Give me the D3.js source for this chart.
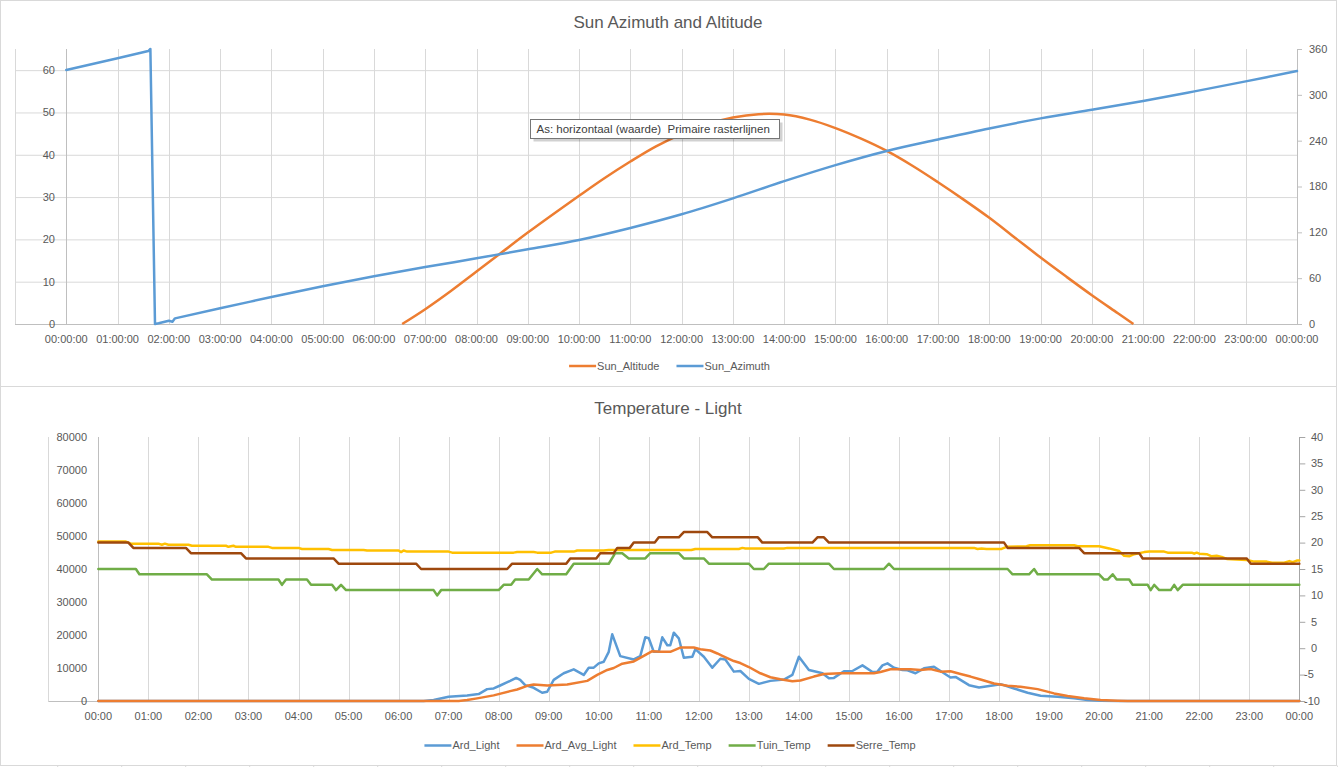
<!DOCTYPE html>
<html>
<head>
<meta charset="utf-8">
<script src="https://cdn.jsdelivr.net/npm/d3@7"></script>
<style>
  html, body { margin: 0; padding: 0; background: #fff; }
  svg { display: block; font-family: "Liberation Sans", Arial, sans-serif; }
</style>
</head>
<body>
<svg id="chart" width="1338" height="767"></svg>
<script>
// ---------------- DATA ----------------
// Chart 1: Sun Azimuth and Altitude (x = hour of day)
const topTitle = "Sun Azimuth and Altitude";
const topTickHours = [0,1,2,3,4,5,6,7,8,9,10,11,12,13,14,15,16,17,18,19,20,21,22,23,24];
const topTickLabels = ["00:00:00","01:00:00","02:00:00","03:00:00","04:00:00","05:00:00","06:00:00","07:00:00","08:00:00","09:00:00","10:00:00","11:00:00","12:00:00","13:00:00","14:00:00","15:00:00","16:00:00","17:00:00","18:00:00","19:00:00","20:00:00","21:00:00","22:00:00","23:00:00","00:00:00"];
const topLeftTicks = [0,10,20,30,40,50,60];
const topRightTicks = [0,60,120,180,240,300,360];

const sunAltitude = [
  [6.55,0],[7,3.5],[7.5,7.8],[8,12.4],[8.5,17],[9,21.6],[9.5,26.0],[10,30.3],[10.5,34.5],
  [11,38.4],[11.5,42.0],[12,44.9],[12.5,47.2],[13,48.8],[13.5,49.6],[14,49.5],[14.5,48.3],
  [15,46.3],[15.5,43.8],[16,40.9],[16.5,37.4],[17,33.5],[17.5,29.4],[18,25.1],[18.5,20.4],
  [19,15.7],[19.5,11.2],[20,6.8],[20.5,2.6],[20.81,0]
];
const sunAzimuth = [
  [0,332.5],[1,348],[1.6,357.3],[1.64,360],[1.73,0],[1.8,1],[2.0,4.3],[2.07,3.0],[2.12,7.4],
  [3,20.5],[4,35.3],[5,49.3],[6,62.4],[7,74.5],[8,86],[9,97.8],[10,110],[11,125.7],[12,143.6],
  [13,164.5],[14,187],[15,208],[16,226.5],[17,241.5],[18,256],[19,269.2],[20,280.5],
  [21,291.9],[22,304.5],[23,317.6],[24,331.2]
];

// Chart 2: Temperature - Light
const botTitle = "Temperature - Light";
const botTickHours = [0,1,2,3,4,5,6,7,8,9,10,11,12,13,14,15,16,17,18,19,20,21,22,23,24];
const botTickLabels = ["00:00","01:00","02:00","03:00","04:00","05:00","06:00","07:00","08:00","09:00","10:00","11:00","12:00","13:00","14:00","15:00","16:00","17:00","18:00","19:00","20:00","21:00","22:00","23:00","00:00"];
const botLeftTicks = [0,10000,20000,30000,40000,50000,60000,70000,80000];
const botRightTicks = [-10,-5,0,5,10,15,20,25,30,35,40];

const ardLight = [
  [0,0],[6.5,0],[6.7,300],[7.0,1300],[7.37,1700],[7.6,2100],[7.77,3600],[7.9,3800],[8.03,4700],
  [8.23,6100],[8.35,7000],[8.43,6400],[8.53,4800],[8.7,4000],[8.87,2500],[8.97,2800],[9.1,6400],
  [9.3,8400],[9.5,9600],[9.7,7900],[9.8,10100],[9.9,10100],[10.0,11400],[10.1,11900],[10.2,14900],
  [10.27,20200],[10.43,13600],[10.7,12600],[10.83,13600],[10.93,19300],[11.0,19000],[11.1,14900],
  [11.2,14900],[11.27,19300],[11.37,16900],[11.43,16900],[11.5,20700],[11.6,19000],[11.7,13100],
  [11.87,13400],[11.93,15700],[12.1,13400],[12.27,10100],[12.43,12800],[12.53,12600],[12.7,8900],
  [12.83,9100],[13.0,6700],[13.2,5200],[13.43,6100],[13.7,6500],[13.87,7900],[14.0,13400],
  [14.2,9400],[14.37,8800],[14.47,8400],[14.6,6900],[14.7,7000],[14.9,9000],[15.07,9100],
  [15.27,10800],[15.47,8800],[15.57,8900],[15.67,10800],[15.77,11400],[15.9,10100],[16.07,9400],
  [16.17,9300],[16.33,8400],[16.5,9900],[16.7,10400],[16.83,9100],[17.03,7100],[17.13,7300],
  [17.4,4800],[17.6,4100],[17.77,4500],[18.03,5100],[18.3,3800],[18.57,2500],[18.83,1600],
  [19.17,1300],[19.5,800],[19.77,300],[20.03,100],[20.4,0],[24,0]
];
const ardAvgLight = [
  [0,0],[7.2,0],[7.37,300],[7.57,800],[7.9,1700],[8.23,3000],[8.37,3500],[8.57,4600],[8.7,5000],
  [8.97,4700],[9.37,5000],[9.77,6100],[9.97,7900],[10.17,9400],[10.3,10000],[10.47,11300],
  [10.7,12000],[10.9,13700],[11.07,15100],[11.23,14900],[11.43,14900],[11.63,16200],[11.9,16200],
  [12.03,15700],[12.23,15300],[12.37,14400],[12.47,13700],[12.7,12100],[12.83,11500],[13.0,10300],
  [13.23,8400],[13.43,7200],[13.63,6600],[13.87,6000],[14.03,6200],[14.3,7400],[14.5,8200],
  [14.83,8400],[15.5,8400],[15.63,8800],[15.83,9600],[16.23,9600],[16.43,9400],[16.63,9700],
  [16.83,8900],[17.03,9000],[17.23,8200],[17.43,7400],[17.63,6500],[17.9,5300],[18.17,4600],
  [18.43,4300],[18.77,3600],[19.1,2300],[19.37,1500],[19.7,800],[20.03,300],[20.37,100],
  [20.57,0],[24,0]
];
const ardTemp = [
  [0,20.2],[0.55,20.2],[0.65,19.8],[1.2,19.8],[1.27,19.6],[1.33,19.8],[1.4,19.6],[1.8,19.6],
  [1.87,19.4],[2.55,19.4],[2.6,19.2],[2.7,19.4],[2.75,19.2],[3.4,19.2],[3.47,19.0],[4.0,19.0],
  [4.07,18.8],[4.6,18.8],[4.67,18.6],[5.3,18.6],[5.37,18.5],[6.0,18.5],[6.05,18.2],[6.1,18.5],
  [6.17,18.3],[7.0,18.3],[7.07,18.1],[8.3,18.1],[8.37,18.2],[8.7,18.2],[8.77,18.1],[9.05,18.1],
  [9.12,18.3],[9.5,18.3],[9.57,18.5],[10.1,18.5],[10.2,18.6],[11.85,18.6],[11.93,18.8],[12.8,18.8],
  [12.87,19.0],[12.93,18.9],[13.7,18.9],[13.77,19.0],[17.5,19.0],[17.57,18.8],[17.65,18.9],
  [17.75,18.8],[18.05,18.8],[18.15,19.2],[18.55,19.3],[18.62,19.5],[19.5,19.5],[19.57,19.3],
  [20.0,19.3],[20.2,18.9],[20.4,18.4],[20.5,17.5],[20.6,17.4],[20.7,17.8],[20.9,18.2],[21.0,18.3],
  [21.3,18.3],[21.37,18.1],[21.85,18.1],[21.9,17.9],[21.95,18.1],[22.0,17.9],[22.15,17.8],
  [22.25,17.4],[22.35,17.5],[22.45,17.3],[22.55,16.9],[22.95,16.7],[23.1,16.4],[23.35,16.4],
  [23.45,16.2],[23.7,16.2],[23.8,16.5],[23.87,16.3],[23.95,16.6],[24,16.6]
];
const tuinTemp = [
  [0,15],[0.75,15],[0.82,14],[2.17,14],[2.27,13],[3.6,13],[3.67,12],[3.75,13],[4.17,13],[4.25,12],
  [4.67,12],[4.75,11],[4.85,12],[4.95,11],[6.7,11],[6.77,10],[6.85,11],[8.0,11],[8.1,12],[8.25,12],
  [8.33,13],[8.6,13],[8.77,15],[8.87,14],[9.35,14],[9.5,16],[10.2,16],[10.33,18],[10.47,18],
  [10.6,17],[10.93,17],[11.03,18],[11.6,18],[11.7,17],[12.1,17],[12.2,16],[13.0,16],[13.1,15],
  [13.3,15],[13.4,16],[14.6,16],[14.7,15],[15.7,15],[15.8,16],[15.9,15],[18.17,15],[18.27,14],
  [18.6,14],[18.7,15],[18.77,14],[20.0,14],[20.1,13],[20.17,13],[20.27,14],[20.35,13],[20.6,13],
  [20.67,12],[20.97,12],[21.03,11],[21.1,12],[21.2,11],[21.43,11],[21.5,12],[21.57,11],[21.67,12],
  [24,12]
];
const serreTemp = [
  [0,20],[0.6,20],[0.7,19],[1.75,19],[1.85,18],[2.85,18],[2.95,17],[4.7,17],[4.8,16],[6.35,16],
  [6.45,15],[8.17,15],[8.27,16],[9.35,16],[9.43,17],[9.95,17],[10.03,18],[10.3,18],[10.37,19],
  [10.62,19],[10.7,20],[11.12,20],[11.2,21],[11.6,21],[11.7,22],[12.17,22],[12.27,21],[13.18,21],
  [13.27,20],[14.27,20],[14.37,21],[14.5,21],[14.6,20],[18.1,20],[18.17,19],[19.6,19],[19.7,18],
  [20.8,18],[20.87,17],[22.95,17],[23.03,16],[24,16]
];

const tooltipText = "As: horizontaal (waarde)  Primaire rasterlijnen";

// ---------------- STYLE ----------------
const C = {
  blue: "#5B9BD5", orange: "#ED7D31", gold: "#FFC000", green: "#70AD47", brown: "#9E480E",
  grid: "#D9D9D9", axis: "#BFBFBF", text: "#595959", border: "#D9D9D9"
};
const LW = 2.5;

const svg = d3.select("#chart");
svg.append("rect").attr("width",1338).attr("height",767).attr("fill","#fff");

// chart frames
svg.append("rect").attr("x",0.5).attr("y",0.5).attr("width",1336).attr("height",386)
  .attr("fill","none").attr("stroke",C.border);
svg.append("rect").attr("x",0.5).attr("y",386.5).attr("width",1336).attr("height",379)
  .attr("fill","none").attr("stroke",C.border);
// fragment of the next chart's frame visible at the very bottom
const frag = svg.append("g");
d3.range(57.7, 1338, 64).forEach(x => {
  frag.append("line").attr("x1",x).attr("x2",x).attr("y1",765.5).attr("y2",767).attr("stroke",C.border);
});

function legend(g, items, cx, cy) {
  const tmp = g.append("g");
  const widths = items.map(it => {
    const t = tmp.append("text").attr("font-size",11).text(it.name);
    const w = t.node().getComputedTextLength(); t.remove(); return w;
  });
  tmp.remove();
  const lineW = 27, gapT = 1, gapItem = 17;
  const total = d3.sum(widths) + items.length*(lineW+gapT) + (items.length-1)*gapItem;
  let x = cx - total/2;
  items.forEach((it,i) => {
    g.append("line").attr("x1",x).attr("x2",x+lineW).attr("y1",cy).attr("y2",cy)
      .attr("stroke",it.color).attr("stroke-width",LW);
    g.append("text").attr("x",x+lineW+gapT).attr("y",cy).attr("dy","0.35em")
      .attr("font-size",11).attr("fill",C.text).text(it.name);
    x += lineW + gapT + widths[i] + gapItem;
  });
}

// ================= TOP CHART =================
{
  const g = svg.append("g");
  const x = d3.scaleLinear().domain([-1,24]).range([15,1297]);
  const yL = d3.scaleLinear().domain([0,65]).range([324,49]);
  const yR = d3.scaleLinear().domain([0,360]).range([324,49]);

  g.append("text").attr("x",668).attr("y",22).attr("dy","0.35em").attr("text-anchor","middle")
    .attr("font-size",17).attr("fill",C.text).text(topTitle);

  g.selectAll(".hg").data(topLeftTicks.filter(v => v !== 0)).join("line")
    .attr("x1",x(-1)).attr("x2",x(24)).attr("y1",d=>yL(d)+0.5).attr("y2",d=>yL(d)+0.5)
    .attr("stroke",C.grid);
  g.selectAll(".vg").data(d3.range(-1,24)).join("line")
    .attr("x1",d=>Math.round(x(d))+0.5).attr("x2",d=>Math.round(x(d))+0.5)
    .attr("y1",yL(65)).attr("y2",yL(0)).attr("stroke",C.grid);
  g.append("line").attr("x1",x(-1)).attr("x2",x(24)).attr("y1",yL(0)+0.5).attr("y2",yL(0)+0.5).attr("stroke",C.axis);
  g.append("line").attr("x1",Math.round(x(0))+0.5).attr("x2",Math.round(x(0))+0.5).attr("y1",yL(65)).attr("y2",yL(0)).attr("stroke",C.axis);
  g.append("line").attr("x1",Math.round(x(24))+0.5).attr("x2",Math.round(x(24))+0.5).attr("y1",yR(360)).attr("y2",yR(0)).attr("stroke",C.axis);
  g.selectAll(".rt").data(topRightTicks).join("line")
    .attr("x1",x(24)).attr("x2",x(24)+5).attr("y1",d=>yR(d)+0.5).attr("y2",d=>yR(d)+0.5).attr("stroke",C.axis);

  g.selectAll(".xl").data(topTickHours).join("text")
    .attr("x",d=>x(d)).attr("y",339).attr("dy","0.35em").attr("text-anchor","middle")
    .attr("font-size",11).attr("fill",C.text).text((d,i)=>topTickLabels[i]);
  g.selectAll(".ll").data(topLeftTicks).join("text")
    .attr("x",55).attr("y",d=>yL(d)).attr("dy","0.35em").attr("text-anchor","end")
    .attr("font-size",11).attr("fill",C.text).text(d=>d);
  g.selectAll(".rl").data(topRightTicks).join("text")
    .attr("x",1309).attr("y",d=>yR(d)).attr("dy","0.35em").attr("text-anchor","start")
    .attr("font-size",11).attr("fill",C.text).text(d=>d);

  const smoothL = d3.line().x(d=>x(d[0])).y(d=>yL(d[1])).curve(d3.curveCatmullRom.alpha(0.5));
  const straightR = d3.line().x(d=>x(d[0])).y(d=>yR(d[1]));
  const smoothR = d3.line().x(d=>x(d[0])).y(d=>yR(d[1])).curve(d3.curveCatmullRom.alpha(0.5));

  g.append("path").attr("d",smoothL(sunAltitude)).attr("fill","none").attr("stroke",C.orange)
    .attr("stroke-width",LW).attr("stroke-linejoin","round");
  const azA = sunAzimuth.filter(d => d[0] <= 3);
  const azB = sunAzimuth.filter(d => d[0] >= 3);
  g.append("path").attr("d",straightR(azA) + smoothR(azB)).attr("fill","none").attr("stroke",C.blue)
    .attr("stroke-width",LW).attr("stroke-linejoin","round").attr("stroke-linecap","round");

  legend(g, [{name:"Sun_Altitude",color:C.orange},{name:"Sun_Azimuth",color:C.blue}], 669.5, 366);

  // tooltip
  const tt = g.append("g");
  const tx = 530.5, ty = 119.5, tw = 249, th = 19;
  tt.append("rect").attr("x",tx+3).attr("y",ty+3).attr("width",tw).attr("height",th)
    .attr("fill","#000").attr("opacity",0.18);
  tt.append("rect").attr("x",tx).attr("y",ty).attr("width",tw).attr("height",th)
    .attr("fill","#fff").attr("stroke","#767676");
  tt.append("text").attr("x",tx+6).attr("y",ty+th/2).attr("dy","0.35em")
    .attr("font-size",11.5).attr("fill","#404040").style("white-space","pre")
    .attr("xml:space","preserve").text(tooltipText);
}

// ================= BOTTOM CHART =================
{
  const g = svg.append("g");
  const x = d3.scaleLinear().domain([-1,24]).range([48.3,1299.3]);
  const yL = d3.scaleLinear().domain([0,80000]).range([701,437]);
  const yR = d3.scaleLinear().domain([-10,40]).range([701,437]);

  g.append("text").attr("x",668).attr("y",408).attr("dy","0.35em").attr("text-anchor","middle")
    .attr("font-size",17).attr("fill",C.text).text(botTitle);

  g.selectAll(".vg").data(d3.range(-1,24)).join("line")
    .attr("x1",d=>Math.round(x(d))+0.5).attr("x2",d=>Math.round(x(d))+0.5)
    .attr("y1",yL(80000)).attr("y2",yL(0)).attr("stroke",C.grid);
  g.append("line").attr("x1",x(-1)).attr("x2",x(24)+1).attr("y1",yL(0)+0.5).attr("y2",yL(0)+0.5).attr("stroke",C.axis);
  g.append("line").attr("x1",Math.round(x(0))+0.5).attr("x2",Math.round(x(0))+0.5).attr("y1",yL(80000)).attr("y2",yL(0)).attr("stroke",C.axis);
  g.append("line").attr("x1",Math.round(x(24))+0.5).attr("x2",Math.round(x(24))+0.5).attr("y1",yR(40)).attr("y2",yR(-10)).attr("stroke","#A6A6A6");
  g.selectAll(".rt").data(botRightTicks).join("line")
    .attr("x1",x(24)).attr("x2",x(24)+6).attr("y1",d=>yR(d)+0.5).attr("y2",d=>yR(d)+0.5).attr("stroke","#A6A6A6");

  g.selectAll(".xl").data(botTickHours).join("text")
    .attr("x",d=>x(d)).attr("y",716).attr("dy","0.35em").attr("text-anchor","middle")
    .attr("font-size",11).attr("fill",C.text).text((d,i)=>botTickLabels[i]);
  g.selectAll(".ll").data(botLeftTicks).join("text")
    .attr("x",87).attr("y",d=>yL(d)).attr("dy","0.35em").attr("text-anchor","end")
    .attr("font-size",11).attr("fill",C.text).text(d=>d);
  g.selectAll(".rl").data(botRightTicks).join("text")
    .attr("x",d=> d < 0 ? 1304 : 1311).attr("y",d=>yR(d)).attr("dy","0.35em").attr("text-anchor","start")
    .attr("font-size",11).attr("fill",C.text).text(d=>d);

  const lineL = d3.line().x(d=>x(d[0])).y(d=>yL(d[1]));
  const lineR = d3.line().x(d=>x(d[0])).y(d=>yR(d[1]));
  const series = [
    {name:"Ard_Light", data:ardLight, color:C.blue, gen:lineL},
    {name:"Ard_Avg_Light", data:ardAvgLight, color:C.orange, gen:lineL},
    {name:"Ard_Temp", data:ardTemp, color:C.gold, gen:lineR},
    {name:"Tuin_Temp", data:tuinTemp, color:C.green, gen:lineR},
    {name:"Serre_Temp", data:serreTemp, color:C.brown, gen:lineR}
  ];
  series.forEach(s => {
    g.append("path").attr("d",s.gen(s.data)).attr("fill","none").attr("stroke",s.color)
      .attr("stroke-width",LW).attr("stroke-linejoin","round").attr("stroke-linecap","round");
  });

  legend(g, series.map(s=>({name:s.name,color:s.color})), 670, 745.5);
}
</script>
</body>
</html>
